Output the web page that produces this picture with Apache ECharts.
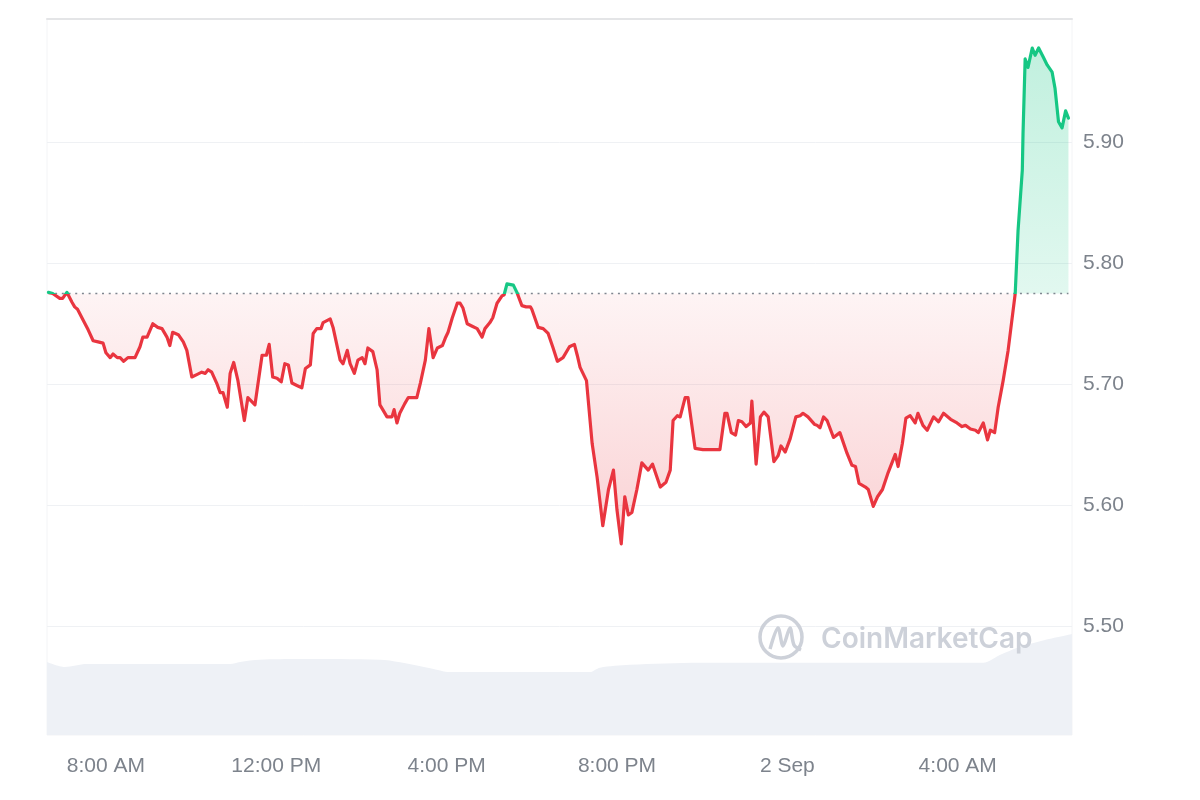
<!DOCTYPE html>
<html>
<head>
<meta charset="utf-8">
<style>
  html, body { margin: 0; padding: 0; background: #ffffff; }
  #chart { width: 1200px; height: 800px; }
</style>
<script src="https://cdn.jsdelivr.net/npm/echarts@6/dist/echarts.min.js"></script>
</head>
<body>
<div id="chart"></div>
<script>
// Times are minutes since 00:00 on 1 Sep
const priceTimes = [399,405,415,419,425,432,436,440,448,455,462,469,476,480,486,490,496,500,505,511,521,528,532,538,546,553,559,566,570,574,582,589,594,601,608,615,620,624,629,636,641,645,651,655,660,666,675,680,690,700,706,710,715,721,727,732,737,742,749,756,761,768,772,777,783,786,796,800,810,814,820,824,830,835,841,845,849,856,862,866,870,876,883,886,890,894,901,906,913,918,923,930,935,941,947,954,958,962,968,975,979,983,989,996,1003,1010,1014,1021,1025,1031,1038,1041,1045,1054,1059,1066,1072,1078,1080,1089,1096,1103,1110,1116,1124,1133,1140,1144,1148,1157,1165,1172,1180,1188,1195,1200,1206,1211,1216,1221,1228,1235,1244,1250,1261,1269,1275,1279,1285,1289,1296,1300,1310,1321,1331,1345,1352,1355,1361,1367,1371,1376,1382,1388,1390,1396,1402,1407,1413,1421,1427,1431,1437,1444,1452,1458,1462,1469,1478,1482,1486,1491,1496,1505,1514,1524,1531,1536,1541,1550,1554,1561,1567,1574,1582,1592,1596,1602,1607,1613,1620,1624,1631,1637,1646,1653,1660,1670,1679,1686,1691,1698,1705,1709,1716,1722,1726,1732,1737,1744,1751,1761,1765,1771,1772,1775,1779,1785,1789,1794,1801,1806,1813,1817,1822,1827,1832,1836];
const priceValues = [5.776,5.775,5.771,5.771,5.776,5.768,5.764,5.762,5.753,5.745,5.736,5.735,5.734,5.726,5.722,5.725,5.722,5.722,5.719,5.722,5.722,5.731,5.739,5.739,5.750,5.747,5.746,5.739,5.732,5.743,5.741,5.735,5.728,5.706,5.708,5.710,5.709,5.712,5.710,5.701,5.693,5.693,5.681,5.709,5.718,5.703,5.670,5.689,5.683,5.724,5.724,5.733,5.706,5.705,5.702,5.717,5.716,5.701,5.699,5.697,5.713,5.716,5.742,5.746,5.746,5.751,5.754,5.747,5.720,5.717,5.728,5.717,5.709,5.720,5.722,5.717,5.730,5.727,5.712,5.683,5.679,5.673,5.673,5.679,5.668,5.676,5.684,5.689,5.689,5.689,5.701,5.720,5.746,5.722,5.730,5.732,5.738,5.743,5.755,5.767,5.767,5.763,5.750,5.748,5.746,5.739,5.746,5.751,5.755,5.767,5.773,5.774,5.783,5.782,5.776,5.765,5.764,5.764,5.762,5.747,5.746,5.742,5.730,5.719,5.722,5.731,5.733,5.724,5.714,5.703,5.651,5.623,5.583,5.613,5.629,5.596,5.568,5.607,5.592,5.594,5.613,5.635,5.629,5.634,5.615,5.619,5.629,5.670,5.674,5.673,5.689,5.689,5.647,5.646,5.646,5.646,5.676,5.676,5.660,5.658,5.670,5.669,5.665,5.668,5.686,5.634,5.673,5.677,5.673,5.636,5.641,5.649,5.644,5.655,5.673,5.674,5.676,5.673,5.667,5.666,5.664,5.673,5.670,5.656,5.660,5.643,5.633,5.632,5.618,5.615,5.613,5.599,5.607,5.613,5.627,5.642,5.632,5.651,5.672,5.674,5.668,5.676,5.666,5.662,5.673,5.669,5.676,5.671,5.668,5.665,5.666,5.663,5.662,5.660,5.668,5.654,5.662,5.660,5.681,5.703,5.728,5.775,5.827,5.877,5.907,5.969,5.962,5.978,5.972,5.978,5.970,5.964,5.958,5.945,5.917,5.912,5.926,5.920];
const openPrice = 5.775;

const volumeTimes = [397,422,453,556,655,669,697,753,866,923,951,961,1120,1162,1176,1218,1317,1388,1599,1716,1740,1764,1796,1841];
const volumeValues = [102,95,99,99,99,102,105,106,105,96,90,88,88,88,94,98,101,101,101,101,112,122,131,141];

const yTickValues = [5.5, 5.6, 5.7, 5.8, 5.9];
const xTickValues = [480, 720, 960, 1200, 1440, 1680];

const RED = '#e9353f';
const GREEN = '#16c784';
const LABEL = '#7d838c';

function fmtTime(v) {
  if (v % 1440 === 0) return (1 + v / 1440) + ' Sep';
  const h = Math.floor(v / 60) % 24;
  const mm = String(v % 60).padStart(2, '0');
  const h12 = h % 12 === 0 ? 12 : h % 12;
  return h12 + ':' + mm + (h < 12 ? ' AM' : ' PM');
}

const linePts = priceTimes.map((t, i) => [t, priceValues[i]]);
const belowPts = priceTimes.map((t, i) => [t, Math.min(priceValues[i], openPrice)]);
const abovePts = priceTimes.map((t, i) => [t, Math.max(priceValues[i], openPrice)]);
const volPts = volumeTimes.map((t, i) => [t, volumeValues[i]]);
const openPts = [[priceTimes[0], openPrice], [priceTimes[priceTimes.length - 1], openPrice]];

const chart = echarts.init(document.getElementById('chart'), null, { renderer: 'canvas' });
chart.setOption({
  animation: false,
  backgroundColor: '#ffffff',
  textStyle: { fontFamily: 'Liberation Sans, Arial, sans-serif' },
  grid: {
    left: 47, right: 128, top: 19, bottom: 65,
    show: true, borderColor: '#f3f4f6', borderWidth: 1, backgroundColor: 'transparent'
  },
  xAxis: [
    {
      type: 'value', min: 397, max: 1841,
      axisLine: { show: false }, axisTick: { show: false }, splitLine: { show: false },
      axisLabel: {
        customValues: xTickValues, formatter: fmtTime,
        color: LABEL, fontSize: 21, margin: 21,
        fontFamily: 'Liberation Sans, Arial, sans-serif'
      }
    },
    {
      type: 'value', position: 'top', min: 397, max: 1841,
      axisLine: { show: true, lineStyle: { color: '#e4e5e7', width: 2 } },
      axisTick: { show: false }, axisLabel: { show: false }, splitLine: { show: false }
    }
  ],
  yAxis: [
    {
      type: 'value', position: 'right', min: 5.41, max: 6.002,
      axisLine: { show: false },
      axisTick: { show: false, customValues: yTickValues },
      axisLabel: {
        customValues: yTickValues,
        formatter: v => v.toFixed(2),
        color: LABEL, fontSize: 21, margin: 11,
        fontFamily: 'Liberation Sans, Arial, sans-serif'
      },
      splitLine: { show: true, lineStyle: { color: '#eff1f4', width: 1 } }
    },
    {
      type: 'value', min: 0, max: 1000, show: false,
      splitLine: { show: false }
    }
  ],
  visualMap: {
    show: false, type: 'piecewise', seriesIndex: 3, dimension: 1,
    pieces: [
      { gt: openPrice, lte: 7, color: GREEN },
      { gte: 5, lte: openPrice, color: RED }
    ],
    outOfRange: { color: RED }
  },
  series: [
    {
      name: 'Volume', type: 'line', yAxisIndex: 1, data: volPts,
      symbol: 'none', smooth: 0.3, z: 1,
      lineStyle: { width: 0 },
      itemStyle: { color: '#eef1f6' },
      areaStyle: { color: '#eef1f6', opacity: 1 }
    },
    {
      name: 'below', type: 'line', data: belowPts, symbol: 'none', z: 2, silent: true,
      lineStyle: { width: 0 },
      areaStyle: {
        origin: openPrice,
        color: new echarts.graphic.LinearGradient(0, 0, 0, 1, [
          { offset: 0, color: 'rgba(234,57,67,0.08)' },
          { offset: 1, color: 'rgba(234,57,67,0.33)' }
        ])
      }
    },
    {
      name: 'above', type: 'line', data: abovePts, symbol: 'none', z: 2, silent: true,
      lineStyle: { width: 0 },
      areaStyle: {
        origin: openPrice,
        color: new echarts.graphic.LinearGradient(0, 0, 0, 1, [
          { offset: 0, color: 'rgba(22,199,132,0.38)' },
          { offset: 1, color: 'rgba(22,199,132,0.18)' }
        ])
      }
    },
    {
      name: 'Price', type: 'line', data: linePts, symbol: 'none', z: 4,
      lineStyle: { width: 3.2, join: 'round', cap: 'round' }
    },
    {
      name: 'Open', type: 'line', data: openPts, symbol: 'none', z: 3, silent: true,
      lineStyle: { type: [2, 4.7], color: '#7f8690', width: 1.5 },
      itemStyle: { color: '#7f8690' }
    }
  ],
  graphic: [
    {
      type: 'circle', z: 3, silent: true,
      shape: { cx: 781, cy: 637, r: 21 },
      style: { fill: 'none', stroke: '#cdd1d9', lineWidth: 3.5 }
    },
    {
      type: 'polyline', z: 3, silent: true,
      shape: { points: [[770, 649], [778, 628], [783, 646], [790, 628], [794, 645], [801, 650]], smooth: 0.3 },
      style: { fill: 'none', stroke: '#cdd1d9', lineWidth: 3.5 }
    },
    {
      type: 'text', z: 3, silent: true, x: 821, y: 640,
      style: {
        text: 'CoinMarketCap', fill: '#cdd1d9', fontSize: 28, fontWeight: 600,
        fontFamily: 'Inter, Lato, sans-serif', verticalAlign: 'middle', align: 'left'
      }
    }
  ]
});
</script>
</body>
</html>
